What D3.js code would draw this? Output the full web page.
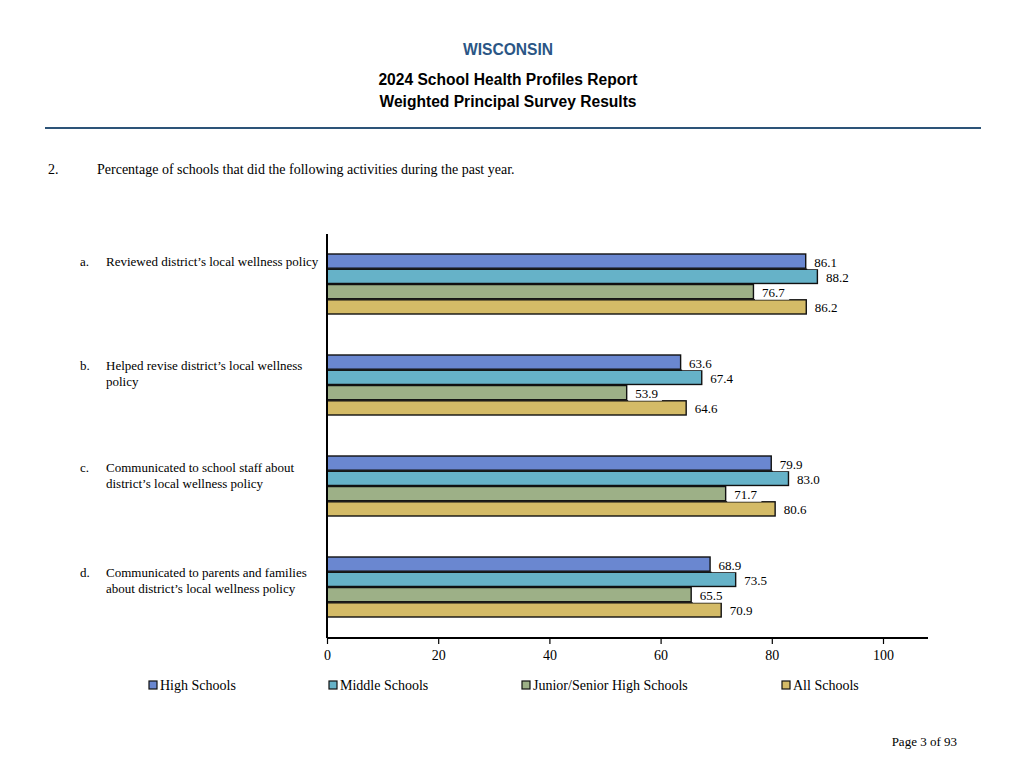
<!DOCTYPE html>
<html><head><meta charset="utf-8">
<script src="https://cdn.jsdelivr.net/npm/d3@7"></script>
<style>body{margin:0;background:#fff}</style>
</head><body>
<svg id="c" width="1024" height="768"></svg>
<script>
const letters = ["a.", "b.", "c.", "d."];
const categories = [
  ["Reviewed district\u2019s local wellness policy"],
  ["Helped revise district\u2019s local wellness", "policy"],
  ["Communicated to school staff about", "district\u2019s local wellness policy"],
  ["Communicated to parents and families", "about district\u2019s local wellness policy"]
];
const seriesNames = ["High Schools", "Middle Schools", "Junior/Senior High Schools", "All Schools"];
const highSchools = [86.1, 63.6, 79.9, 68.9];
const middleSchools = [88.2, 67.4, 83.0, 73.5];
const juniorSenior = [76.7, 53.9, 71.7, 65.5];
const allSchools = [86.2, 64.6, 80.6, 70.9];
const tickValues = [0, 20, 40, 60, 80, 100];
const colors = ["#6a87d0", "#66b2c8", "#9db087", "#d4bb67"];
const series = [highSchools, middleSchools, juniorSenior, allSchools];
const labelOffsets = [31.5, 35, 35.5, 39.5];

const svg = d3.select("#c");
const serif = "'Liberation Serif','Times New Roman',serif";
const sans = "'Liberation Sans',Arial,sans-serif";

// Header
svg.append("text").attr("x", 508).attr("y", 55).attr("text-anchor", "middle")
  .attr("font-family", sans).attr("font-weight", "bold").attr("font-size", 15.6)
  .attr("fill", "#2b5685").text("WISCONSIN");
svg.append("text").attr("x", 508).attr("y", 85).attr("text-anchor", "middle")
  .attr("font-family", sans).attr("font-weight", "bold").attr("font-size", 15.6)
  .attr("fill", "#000").text("2024 School Health Profiles Report");
svg.append("text").attr("x", 508).attr("y", 107).attr("text-anchor", "middle")
  .attr("font-family", sans).attr("font-weight", "bold").attr("font-size", 15.6)
  .attr("fill", "#000").text("Weighted Principal Survey Results");
svg.append("line").attr("x1", 45).attr("x2", 981).attr("y1", 128).attr("y2", 128)
  .attr("stroke", "#2d5478").attr("stroke-width", 2.2);

svg.append("text").attr("x", 48).attr("y", 174).attr("font-family", serif).attr("font-size", 14).text("2.");
svg.append("text").attr("x", 97).attr("y", 174).attr("font-family", serif).attr("font-size", 14)
  .text("Percentage of schools that did the following activities during the past year.");

// Scales
const x = d3.scaleLinear().domain([0, 100]).range([327, 883]);
const y = d3.scaleBand().domain(d3.range(categories.length)).range([234, 638]).paddingInner(0).paddingOuter(0);
const inner = d3.scaleBand().domain(d3.range(series.length)).range([20, 80]).paddingInner(0.07);

const g = svg.append("g");
categories.forEach((lines, i) => {
  const y0 = y(i);
  const base = y0 + labelOffsets[i];
  g.append("text").attr("x", 80).attr("y", base).attr("font-family", serif).attr("font-size", 13).text(letters[i]);
  lines.forEach((ln, k) => {
    g.append("text").attr("x", 106).attr("y", base + k * 16).attr("font-family", serif).attr("font-size", 13).text(ln);
  });
  series.forEach((s, j) => {
    const v = s[i];
    const by = y0 + inner(j);
    const bh = inner.bandwidth();
    g.append("rect").attr("x", x(0)).attr("y", by).attr("width", x(v) - x(0)).attr("height", bh)
      .attr("fill", colors[j]).attr("stroke", "#111").attr("stroke-width", 1.4);
  });
  series.forEach((s, j) => {
    const v = s[i];
    const by = y0 + inner(j);
    const bh = inner.bandwidth();
    const t = g.append("text").attr("x", x(v) + 8.5).attr("y", by + bh / 2 + 5.5)
      .attr("font-family", serif).attr("font-size", 13).text(v.toFixed(1));
    const bb = t.node().getBBox();
    g.insert("rect", () => t.node()).attr("x", x(v) + 1.5).attr("y", by + 1).attr("width", bb.width + 11)
      .attr("height", bh).attr("fill", "#fff");
  });
});

// Axes
svg.append("line").attr("x1", x(0)).attr("x2", x(0)).attr("y1", 234).attr("y2", 638).attr("stroke", "#000").attr("stroke-width", 2);
svg.append("line").attr("x1", x(0)).attr("x2", 928).attr("y1", 638).attr("y2", 638).attr("stroke", "#000").attr("stroke-width", 2);
const ax = svg.append("g").attr("transform", "translate(0,638)")
  .call(d3.axisBottom(x).tickValues(tickValues).tickSize(6).tickPadding(6).tickFormat(d3.format("d")));
ax.select(".domain").remove();
ax.selectAll(".tick line").attr("stroke", "#000").attr("stroke-width", 1.2);
ax.selectAll(".tick text").attr("font-family", serif).attr("font-size", 14).attr("fill", "#000");

// Legend
const legendX = [149, 329, 522, 782];
seriesNames.forEach((n, j) => {
  svg.append("rect").attr("x", legendX[j]).attr("y", 681).attr("width", 8).attr("height", 8)
    .attr("fill", colors[j]).attr("stroke", "#111").attr("stroke-width", 1.2);
  svg.append("text").attr("x", legendX[j] + 11).attr("y", 690).attr("font-family", serif).attr("font-size", 14).text(n);
});

svg.append("text").attr("x", 957).attr("y", 746).attr("text-anchor", "end").attr("font-family", serif).attr("font-size", 13).text("Page 3 of 93");
</script>
</body></html>
